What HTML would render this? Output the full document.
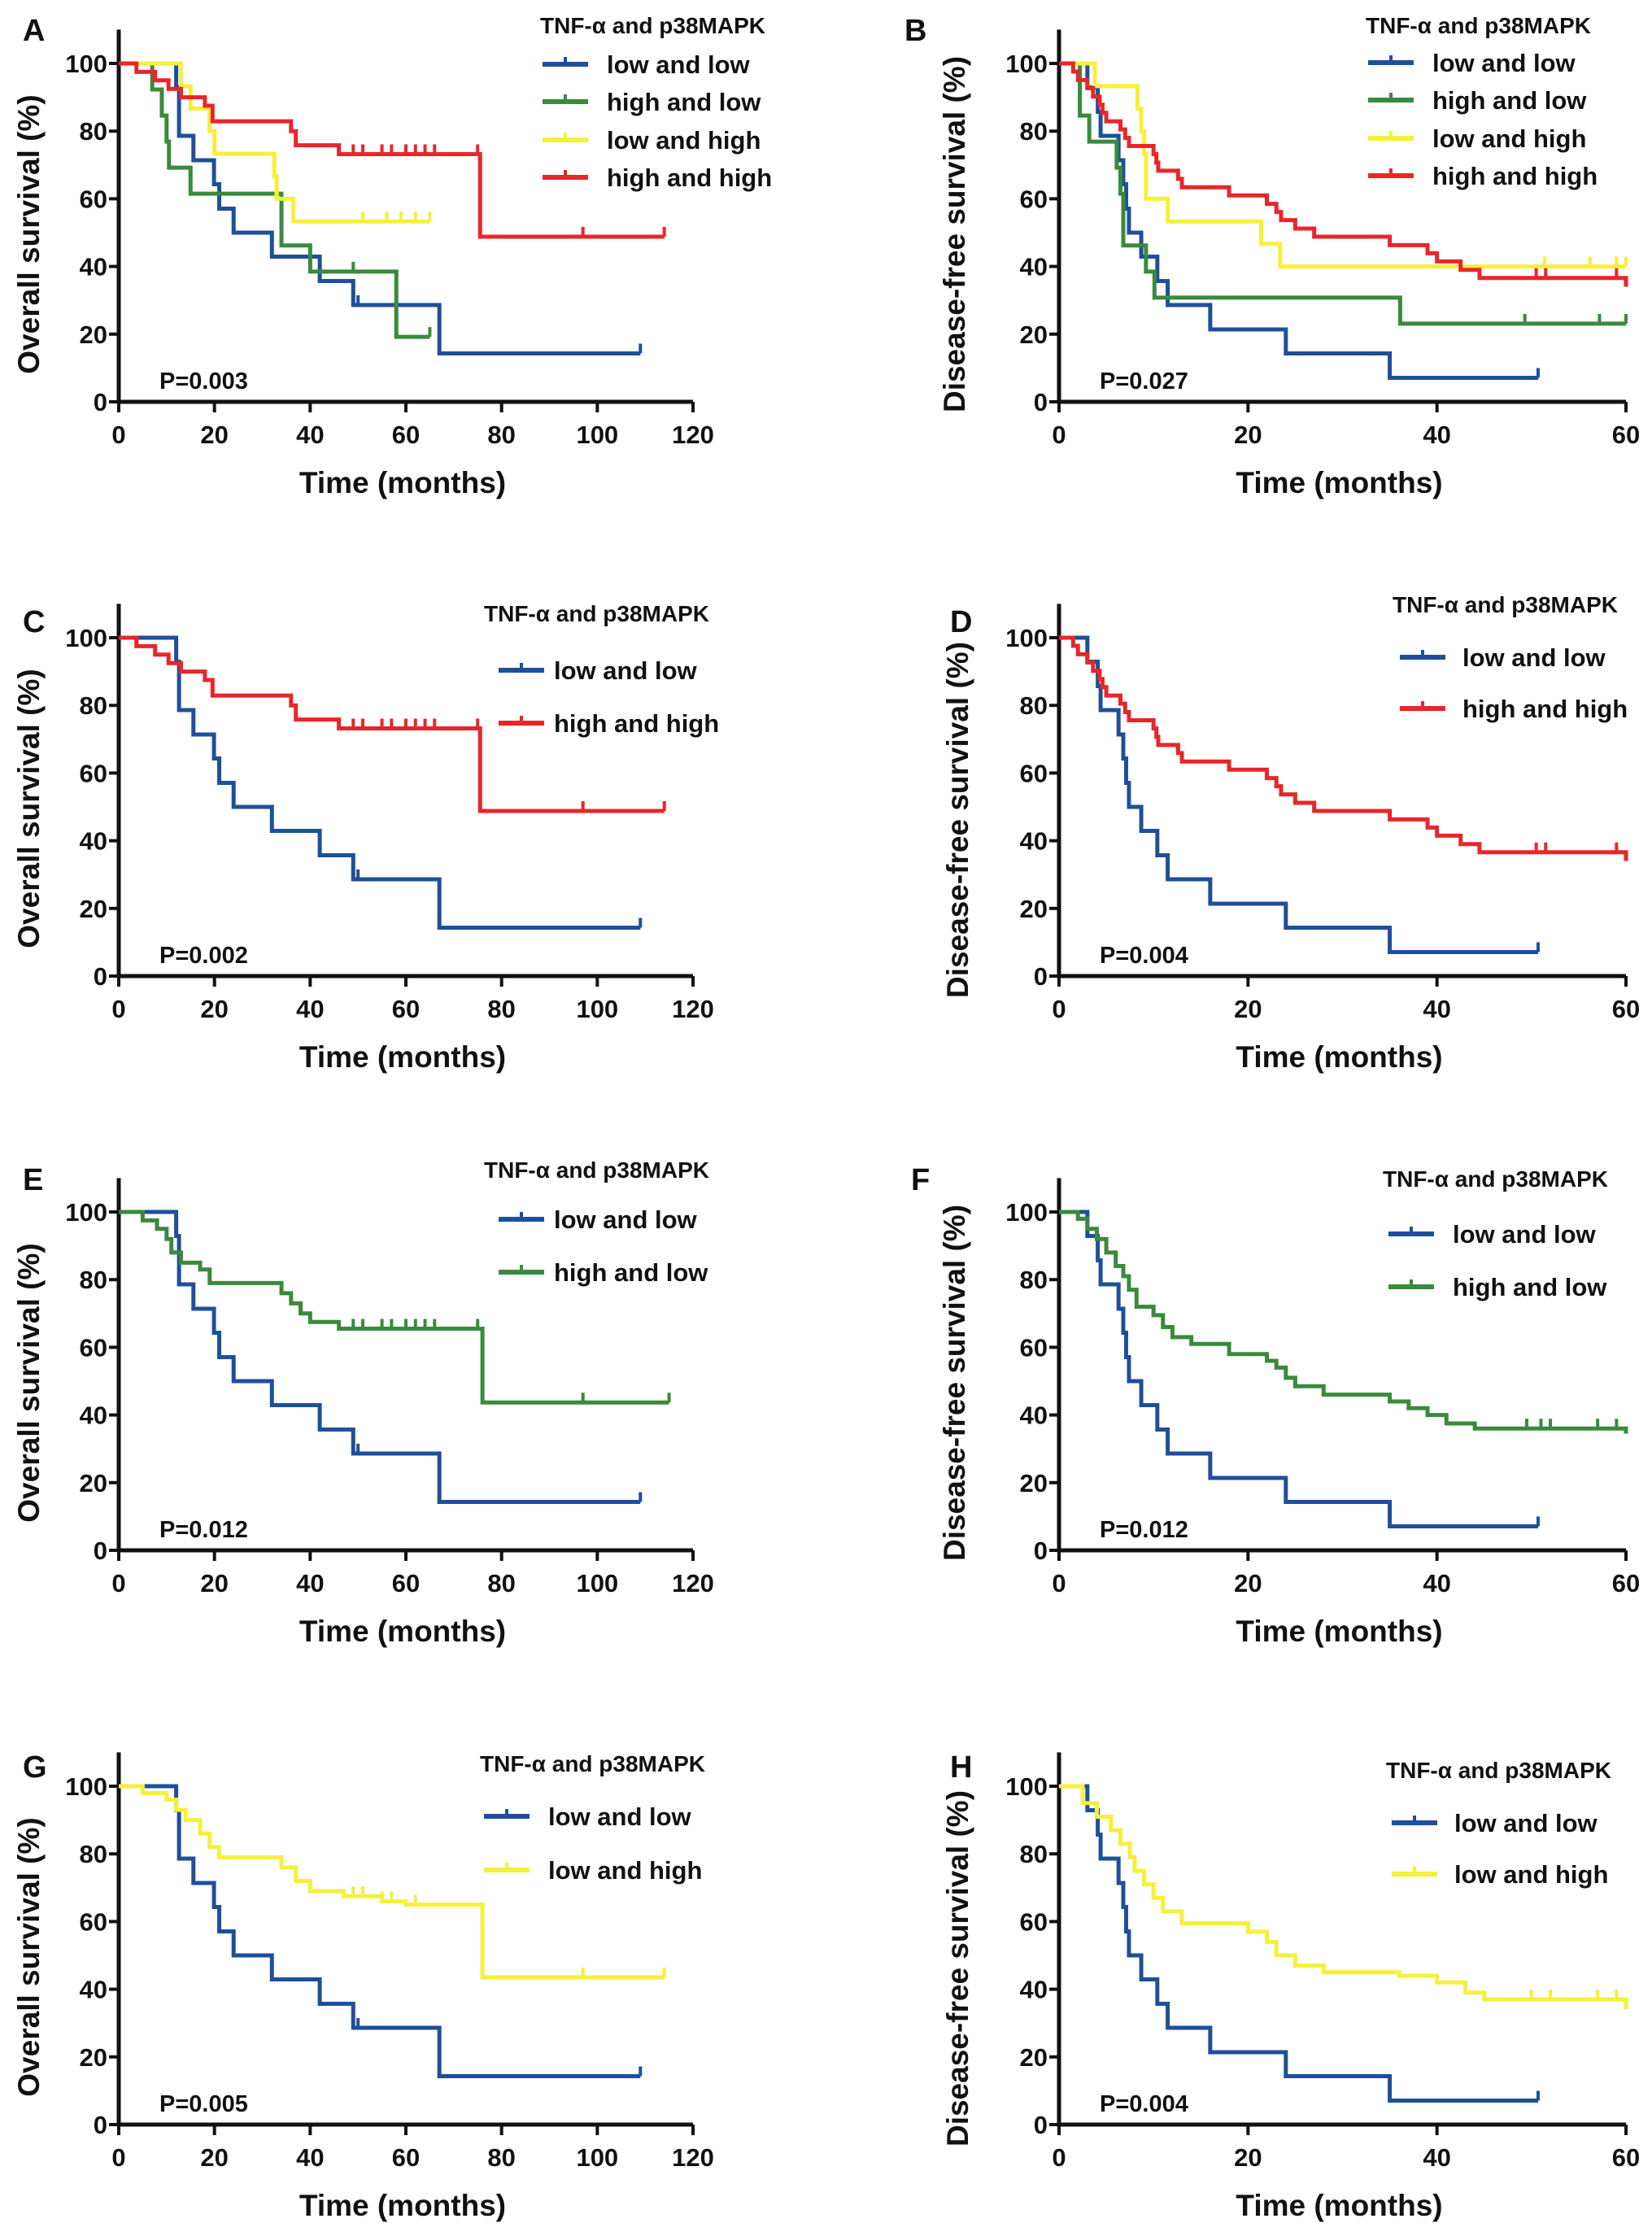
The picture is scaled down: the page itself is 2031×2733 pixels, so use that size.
<!DOCTYPE html>
<html><head><meta charset="utf-8"><style>
html,body{margin:0;padding:0;background:#fff;}
svg{display:block;}
text{font-family:"Liberation Sans Narrow","Liberation Sans",Arial,sans-serif;font-weight:bold;fill:#111;}
</style></head><body>
<svg id="fig" width="2031" height="2733" viewBox="0 0 2031 2733" xmlns="http://www.w3.org/2000/svg"></svg>
<script>
// ---- data: times (months), survival (%), censor times, end time ----
const osLowLowT = [12, 12.6, 15.6, 19.9, 21, 24, 32, 42, 49, 67];
const osLowLowS = [92.9, 78.6, 71.4, 64.3, 57.1, 50, 42.9, 35.7, 28.6, 14.3];
const osLowLowC = [50, 109];
const osLowLowEnd = 109;

const osHighLowT = [7, 9, 10, 10.5, 15, 34, 40, 58];
const osHighLowS = [92.3, 84.6, 76.9, 69.2, 61.5, 46.2, 38.5, 19.2];
const osHighLowC = [49, 65];
const osHighLowEnd = 65;

const osLowHighT = [13, 15, 19, 20, 32.5, 33, 36.5];
const osLowHighS = [93.3, 86.7, 80, 73.3, 66.7, 60, 53.3];
const osLowHighC = [51, 56, 59, 62, 65];
const osLowHighEnd = 65;

const osHighHighT = [3.7, 7.6, 10.4, 13, 18, 19.6, 36, 37, 46, 75.5];
const osHighHighS = [97.5, 95, 92.5, 90, 87.5, 82.9, 80, 75.8, 73.2, 48.8];
const osHighHighC = [49, 51, 55, 57, 60, 62, 64, 66, 75, 97, 114];
const osHighHighEnd = 114;

const osHighLow2T = [5, 8, 10, 11, 13, 17, 19, 34, 36, 38, 40, 46, 76];
const osHighLow2S = [97.5, 95, 92, 88, 85, 83, 79, 76, 73, 70, 67.5, 65.5, 43.7];
const osHighLow2C = [49, 51, 55, 57, 60, 62, 64, 66, 75, 97, 115];
const osHighLow2End = 115;

const osLowHigh2T = [5, 10, 12, 14, 17, 19, 21, 34, 37, 40, 47, 55, 60, 76];
const osLowHigh2S = [98, 96, 93, 90, 86, 82, 79, 76, 72, 69, 67.5, 66, 65, 43.5];
const osLowHigh2C = [49, 51, 55, 57, 62, 97, 114];
const osLowHigh2End = 114;

const dfsLowLowT = [3, 4.1, 4.4, 6.3, 6.8, 7.1, 7.4, 8.7, 10.4, 11.5, 16, 24, 35];
const dfsLowLowS = [92.9, 85.7, 78.6, 71.4, 64.3, 57.1, 50, 42.9, 35.7, 28.6, 21.4, 14.3, 7.1];
const dfsLowLowC = [50.7];
const dfsLowLowEnd = 50.7;

const dfsHighLowT = [2.2, 3.2, 6.1, 6.5, 6.8, 9.2, 10.1, 36.1];
const dfsHighLowS = [84.6, 76.9, 69.2, 61.5, 46.2, 38.5, 30.8, 23.1];
const dfsHighLowC = [49.3, 57.2, 60];
const dfsHighLowEnd = 60;

const dfsLowHighT = [3.8, 8.3, 8.7, 9, 9.2, 11.5, 21.4, 23.4];
const dfsLowHighS = [93.3, 86.7, 80, 73.3, 60, 53.3, 46.7, 40];
const dfsLowHighC = [51.4, 56.2, 59, 60];
const dfsLowHighEnd = 60;

const dfsHighHighT = [1.5, 2, 3, 3.6, 4.3, 4.6, 5, 6.5, 7, 7.4, 10, 10.3, 10.5, 12.6, 13, 18, 22, 23, 23.5, 25, 27, 35, 39, 40, 42.5, 44.5, 60];
const dfsHighHighS = [97.6, 95.1, 92.7, 90.2, 87.8, 85.4, 82.9, 80.5, 78, 75.6, 73.2, 70.7, 68.3, 65.9, 63.4, 61, 58.5, 56.1, 53.7, 51.2, 48.8, 46.3, 43.9, 41.5, 39, 36.6, 34];
const dfsHighHighC = [50.5, 51.5, 59];
const dfsHighHighEnd = 60;

const dfsHighLow2T = [2, 3, 4, 5, 6, 6.8, 7.4, 8.2, 10, 11, 12, 14, 18, 22, 23, 24, 25, 28, 35, 37, 39, 41, 44, 60];
const dfsHighLow2S = [98, 95, 92, 88, 84, 81, 77, 72, 69.5, 66, 63, 61, 58, 56, 54, 51, 48.5, 46, 44, 42, 40, 37.5, 36, 34.5, 32];
const dfsHighLow2C = [49.5, 51, 52, 57, 59];
const dfsHighLow2End = 60;

const dfsLowHigh2T = [2.5, 4, 5.5, 6.5, 7.5, 8, 9, 10, 11, 13, 20, 22, 23, 25, 28, 36, 40, 43, 45, 60];
const dfsLowHigh2S = [95, 91, 87, 83, 79, 75, 71, 67, 63, 59.5, 57, 54, 50, 47, 45, 44, 42, 39, 37, 34];
const dfsLowHigh2C = [50, 52, 57, 59];
const dfsLowHigh2End = 60;

const osTicks = [0, 20, 40, 60, 80, 100, 120];
const dfsTicks = [0, 20, 40, 60];
const yTicks = [0, 20, 40, 60, 80, 100];

const BLUE = "#1f4f9a", GREEN = "#3a8a3c", YELLOW = "#f5f03a", RED = "#e8262a";

const svg = document.getElementById('fig');
const NS = "http://www.w3.org/2000/svg";
function mk(tag, attrs, parent) {
  const e = document.createElementNS(NS, tag);
  for (const k in attrs) e.setAttribute(k, attrs[k]);
  (parent || svg).appendChild(e);
  return e;
}
function txt(s, attrs, parent) { const t = mk('text', attrs, parent); t.textContent = s; return t; }

function panel(cfg) {
  const g = mk('g', {});
  
  
  const x0 = cfg.x0, x1 = cfg.x1, y0 = cfg.y0, yTop = y0 - 416;
  const xs = t => x0 + (x1 - x0) * t / cfg.xmax;
  const ys = v => y0 - (y0 - yTop) * v / 100;
  const L = txt(cfg.letter, {x: cfg.lx, y: y0 + cfg.ly, 'font-size': 38, 'font-family': 'Liberation Sans'}, g);
  
  
  const ax = mk('path', {d: `M${x0} ${ys(110)} V${y0} H${x1}`, fill: 'none', stroke: '#111', 'stroke-width': 5}, g);
  
  
  yTicks.forEach(v => {
    mk('line', {x1: x0 - 12, x2: x0, y1: ys(v), y2: ys(v), stroke: '#111', 'stroke-width': 4}, g);
    const t = txt(String(v), {x: x0 - 14, y: ys(v) + 11, 'text-anchor': 'end', 'font-size': 31}, g);
    
    
  });
  cfg.ticks.forEach(v => {
    mk('line', {x1: xs(v), x2: xs(v), y1: y0, y2: y0 + 13, stroke: '#111', 'stroke-width': 4}, g);
    const t = txt(String(v), {x: xs(v), y: y0 + 51, 'text-anchor': 'middle', 'font-size': 31}, g);
    
    
  });
  const xt = txt('Time (months)', {x: (x0 + x1) / 2 - 4, y: y0 + 112, 'text-anchor': 'middle', 'font-size': 37}, g);
  
  
  const yx = cfg.ytx, yy = y0 + (cfg.yto || -206);
  const yt = txt(cfg.ytitle, {x: yx, y: yy, 'text-anchor': 'middle', 'font-size': 37, transform: `rotate(-90 ${yx} ${yy})`}, g);
  
  
  const p = txt(cfg.p, {x: x0 + 50, y: y0 - 16, 'font-size': 29}, g);
  
  
  cfg.series.forEach(s => {
    let d = `M${xs(0)} ${ys(100)}`;
    s.t.forEach((t, i) => { d += ` H${xs(t)} V${ys(s.s[i])}`; });
    d += ` H${xs(s.end)}`;
    const path = mk('path', {d: d, fill: 'none', stroke: s.color, 'stroke-width': 5, 'stroke-linejoin': 'miter'}, g);
    
    
    s.c.forEach(c => {
      let v = 100;
      s.t.forEach((t, i) => { if (t <= c) v = s.s[i]; });
      const m = mk('line', {x1: xs(c), x2: xs(c), y1: ys(v), y2: ys(v) - 12, stroke: s.color, 'stroke-width': 4}, g);
      
      
    });
  });
  const lg = cfg.leg;
  const lt = txt('TNF-α and p38MAPK', {x: lg.tx, y: y0 + lg.ty + 10, 'font-size': 28}, g);
  
  
  cfg.series.forEach((s, i) => {
    const yy2 = y0 + lg.ey[i];
    const ln = mk('line', {x1: lg.lx, x2: lg.lx + 56, y1: yy2, y2: yy2, stroke: s.color, 'stroke-width': 6}, g);
    
    
    mk('line', {x1: lg.lx + 28, x2: lg.lx + 28, y1: yy2, y2: yy2 - 9, stroke: s.color, 'stroke-width': 4}, g);
    const et = txt(s.name, {x: lg.txt, y: yy2 + 11, 'font-size': 31}, g);
    
    
  });
}

const S = (name, color, t, s, c, end) => ({name, color, t, s, c, end});
const osLL = S('low and low', BLUE, osLowLowT, osLowLowS, osLowLowC, osLowLowEnd);
const dfsLL = S('low and low', BLUE, dfsLowLowT, dfsLowLowS, dfsLowLowC, dfsLowLowEnd);
const rows = [494, 1200, 1906, 2612];
const L = {x0: 146, x1: 852, xmax: 120, ticks: osTicks, ytitle: 'Overall survival (%)', ytx: 48, lx: 28};
const R = {x0: 1302, x1: 1999, xmax: 60, ticks: dfsTicks, ytitle: 'Disease-free survival (%)', ytx: 1186, lx: 1114};

panel(Object.assign({}, L, {letter: 'A', ly: -444, y0: rows[0], p: 'P=0.003',
  leg: {tx: 664, ty: -463, lx: 667, txt: 746, ey: [-415, -369, -322, -276]},
  series: [osLL, S('high and low', GREEN, osHighLowT, osHighLowS, osHighLowC, osHighLowEnd),
    S('low and high', YELLOW, osLowHighT, osLowHighS, osLowHighC, osLowHighEnd),
    S('high and high', RED, osHighHighT, osHighHighS, osHighHighC, osHighHighEnd)]}));
panel(Object.assign({}, R, {letter: 'B', ly: -444, lx: 1112, y0: rows[0], p: 'P=0.027',
  leg: {tx: 1679, ty: -463, lx: 1682, txt: 1761, ey: [-417, -371, -324, -278]},
  series: [dfsLL, S('high and low', GREEN, dfsHighLowT, dfsHighLowS, dfsHighLowC, dfsHighLowEnd),
    S('low and high', YELLOW, dfsLowHighT, dfsLowHighS, dfsLowHighC, dfsLowHighEnd),
    S('high and high', RED, dfsHighHighT, dfsHighHighS, dfsHighHighC, dfsHighHighEnd)]}));
panel(Object.assign({}, L, {letter: 'C', ly: -423, y0: rows[1], p: 'P=0.002',
  leg: {tx: 595, ty: -446, lx: 613, txt: 681, ey: [-376, -311]},
  series: [osLL, S('high and high', RED, osHighHighT, osHighHighS, osHighHighC, osHighHighEnd)]}));
panel(Object.assign({}, R, {letter: 'D', ly: -423, y0: rows[1], lx: 1168, ytx: 1190, yto: -192, p: 'P=0.004',
  leg: {tx: 1712, ty: -457, lx: 1721, txt: 1798, ey: [-392, -329]},
  series: [dfsLL, S('high and high', RED, dfsHighHighT, dfsHighHighS, dfsHighHighC, dfsHighHighEnd)]}));
panel(Object.assign({}, L, {letter: 'E', ly: -443, y0: rows[2], p: 'P=0.012',
  leg: {tx: 595, ty: -468, lx: 613, txt: 681, ey: [-407, -342]},
  series: [osLL, S('high and low', GREEN, osHighLow2T, osHighLow2S, osHighLow2C, osHighLow2End)]}));
panel(Object.assign({}, R, {letter: 'F', ly: -443, y0: rows[2], lx: 1120, p: 'P=0.012',
  leg: {tx: 1700, ty: -457, lx: 1707, txt: 1786, ey: [-389, -324]},
  series: [dfsLL, S('high and low', GREEN, dfsHighLow2T, dfsHighLow2S, dfsHighLow2C, dfsHighLow2End)]}));
panel(Object.assign({}, L, {letter: 'G', ly: -427, y0: rows[3], p: 'P=0.005',
  leg: {tx: 590, ty: -444, lx: 595, txt: 674, ey: [-379, -313]},
  series: [osLL, S('low and high', YELLOW, osLowHigh2T, osLowHigh2S, osLowHigh2C, osLowHigh2End)]}));
panel(Object.assign({}, R, {letter: 'H', ly: -427, y0: rows[3], lx: 1168, ytx: 1190, yto: -192, p: 'P=0.004',
  leg: {tx: 1704, ty: -436, lx: 1711, txt: 1788, ey: [-371, -308]},
  series: [dfsLL, S('low and high', YELLOW, dfsLowHigh2T, dfsLowHigh2S, dfsLowHigh2C, dfsLowHigh2End)]}));
</script>
</body></html>
